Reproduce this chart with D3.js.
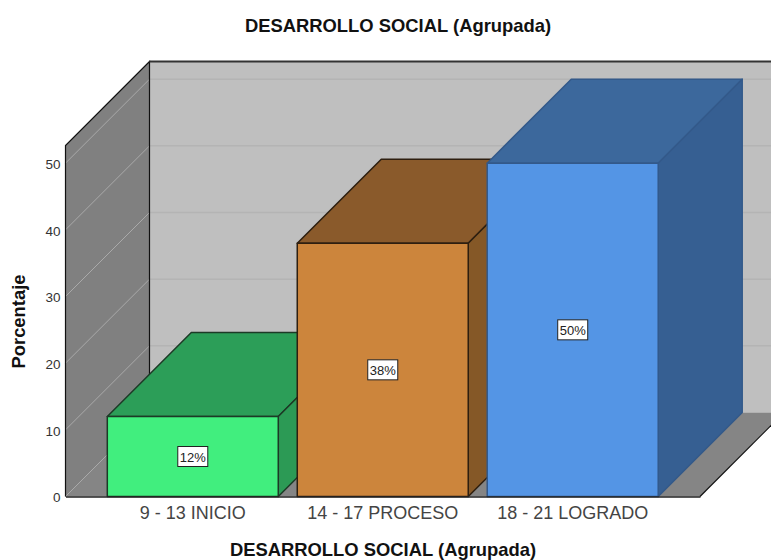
<!DOCTYPE html>
<html>
<head>
<meta charset="utf-8">
<script src="https://cdn.jsdelivr.net/npm/d3@7"></script>
<style>
html, body { margin: 0; padding: 0; background: #fff; overflow: hidden; }
text { font-family: "Liberation Sans", Arial, sans-serif; }
</style>
</head>
<body>
<div id="chart"></div>
<script>
//Data
const categories = ["9 - 13 INICIO", "14 - 17 PROCESO", "18 - 21 LOGRADO"]
const percentages = [12, 38, 50]
const valueLabels = ["12%", "38%", "50%"]
const yTicks = [0, 10, 20, 30, 40, 50]
const frontColors = ["#41ee7e", "#cc853c", "#5495e5"]
const topColors = ["#2c9e58", "#8a5a2b", "#3c689c"]
const sideColors = ["#2c9a55", "#855827", "#365f92"]
const edgeColors = ["#1c3a26", "#2e1f10", "#33598a"]

const width = 771, height = 560

const svg = d3.select("#chart").append("svg")
	.attr("width", width)
	.attr("height", height)
	.style("display", "block")

///////////////////////////// Scales /////////////////////////////
const floorY = 496.5, topY = 145.5
const leftX = 65.5, rightX = 700
const depth = 84

const y = d3.scaleLinear()
	.domain([0, 52.65])
	.range([floorY, topY])

const x = d3.scaleBand()
	.domain(categories)
	.range([leftX, rightX])
	.paddingInner(0.1)
	.paddingOuter(0.22)

const path = pts => "M" + pts.map(p => p.join(",")).join("L") + "Z"

///////////////////////////// Walls and floor /////////////////////////////
//Back wall
svg.append("rect")
	.attr("x", leftX + depth)
	.attr("y", topY - depth)
	.attr("width", width - leftX - depth + 20)
	.attr("height", floorY - topY)
	.attr("fill", "#bfbfbf")

//Left wall
svg.append("path")
	.attr("d", path([[leftX, floorY], [leftX, topY], [leftX + depth, topY - depth], [leftX + depth, floorY - depth]]))
	.attr("fill", "#808080")

//Floor
svg.append("path")
	.attr("d", path([[leftX, floorY], [rightX, floorY], [rightX + depth, floorY - depth], [leftX + depth, floorY - depth]]))
	.attr("fill", "#858585")

//Gridlines on both walls
svg.selectAll(".grid-back")
	.data(yTicks.filter(d => d > 0))
	.enter().append("line")
	.attr("x1", leftX + depth)
	.attr("x2", width)
	.attr("y1", d => y(d) - depth)
	.attr("y2", d => y(d) - depth)
	.attr("stroke", "#b4b4b4")
	.attr("stroke-width", 1.5)

svg.selectAll(".grid-left")
	.data(yTicks)
	.enter().append("line")
	.attr("x1", leftX)
	.attr("x2", leftX + depth)
	.attr("y1", d => y(d))
	.attr("y2", d => y(d) - depth)
	.attr("stroke", "#a9a9a9")
	.attr("stroke-width", 1)

//Wall outlines
svg.append("path")
	.attr("d", `M${leftX},${floorY}V${topY}L${leftX + depth},${topY - depth}V${floorY - depth}`)
	.attr("fill", "none")
	.attr("stroke", "#111")
	.attr("stroke-width", 1.2)

svg.append("line")
	.attr("x1", leftX + depth)
	.attr("x2", width)
	.attr("y1", topY - depth)
	.attr("y2", topY - depth)
	.attr("stroke", "#333")
	.attr("stroke-width", 2)

svg.append("line")
	.attr("x1", rightX)
	.attr("y1", floorY)
	.attr("x2", rightX + depth)
	.attr("y2", floorY - depth)
	.attr("stroke", "#111")
	.attr("stroke-width", 1.2)

///////////////////////////// Bars /////////////////////////////
const bars = svg.selectAll(".bar")
	.data(percentages)
	.enter().append("g")
	.attr("class", "bar")
	.attr("stroke", (d, i) => edgeColors[i])
	.attr("stroke-width", 1.5)
	.attr("stroke-linejoin", "round")

//Top face
bars.append("path")
	.attr("d", (d, i) => {
		const x0 = x(categories[i]), x1 = x0 + x.bandwidth()
		return path([[x0, y(d)], [x1, y(d)], [x1 + depth, y(d) - depth], [x0 + depth, y(d) - depth]])
	})
	.attr("fill", (d, i) => topColors[i])

//Side face
bars.append("path")
	.attr("d", (d, i) => {
		const x1 = x(categories[i]) + x.bandwidth()
		return path([[x1, y(d)], [x1 + depth, y(d) - depth], [x1 + depth, floorY - depth], [x1, floorY]])
	})
	.attr("fill", (d, i) => sideColors[i])

//Front face
bars.append("rect")
	.attr("x", (d, i) => x(categories[i]))
	.attr("y", d => y(d))
	.attr("width", x.bandwidth())
	.attr("height", d => floorY - y(d))
	.attr("fill", (d, i) => frontColors[i])

///////////////////////////// Value labels /////////////////////////////
const labels = svg.selectAll(".value")
	.data(percentages)
	.enter().append("g")
	.attr("class", "value")
	.attr("transform", (d, i) => `translate(${x(categories[i]) + x.bandwidth() / 2},${(y(d) + floorY) / 2})`)

labels.append("rect")
	.attr("x", -15)
	.attr("y", -10)
	.attr("width", 30)
	.attr("height", 20)
	.attr("fill", "#fff")
	.attr("stroke", "#222")
	.attr("stroke-width", 1)

labels.append("text")
	.attr("text-anchor", "middle")
	.attr("y", 5)
	.attr("font-size", 13)
	.attr("fill", "#222")
	.text((d, i) => valueLabels[i])

///////////////////////////// Axes /////////////////////////////
const yAxis = svg.append("g")
	.attr("transform", `translate(${leftX},0)`)
	.call(d3.axisLeft(y).tickValues(yTicks).tickSize(0).tickPadding(5))
yAxis.select(".domain").remove()
yAxis.selectAll("text")
	.attr("font-family", "Liberation Sans")
	.attr("font-size", 13.5)
	.attr("dy", "0.4em")
	.attr("fill", "#333")

const xAxis = svg.append("g")
	.attr("transform", `translate(0,${floorY})`)
	.call(d3.axisBottom(x).tickSize(0).tickPadding(10))
xAxis.select(".domain")
	.attr("stroke", "#222")
	.attr("stroke-width", 1.5)
xAxis.selectAll("text")
	.attr("font-family", "Liberation Sans")
	.attr("font-size", 18)
	.attr("fill", "#444")

///////////////////////////// Titles /////////////////////////////
svg.append("text")
	.attr("x", 398)
	.attr("y", 32)
	.attr("text-anchor", "middle")
	.attr("font-size", 18.4)
	.attr("font-weight", "bold")
	.attr("fill", "#111")
	.text("DESARROLLO SOCIAL (Agrupada)")

svg.append("text")
	.attr("x", 383)
	.attr("y", 555.5)
	.attr("text-anchor", "middle")
	.attr("font-size", 18.4)
	.attr("font-weight", "bold")
	.attr("fill", "#111")
	.text("DESARROLLO SOCIAL (Agrupada)")

svg.append("text")
	.attr("transform", "translate(25,321.5) rotate(-90)")
	.attr("text-anchor", "middle")
	.attr("font-size", 18.4)
	.attr("font-weight", "bold")
	.attr("fill", "#111")
	.text("Porcentaje")
</script>
</body>
</html>
